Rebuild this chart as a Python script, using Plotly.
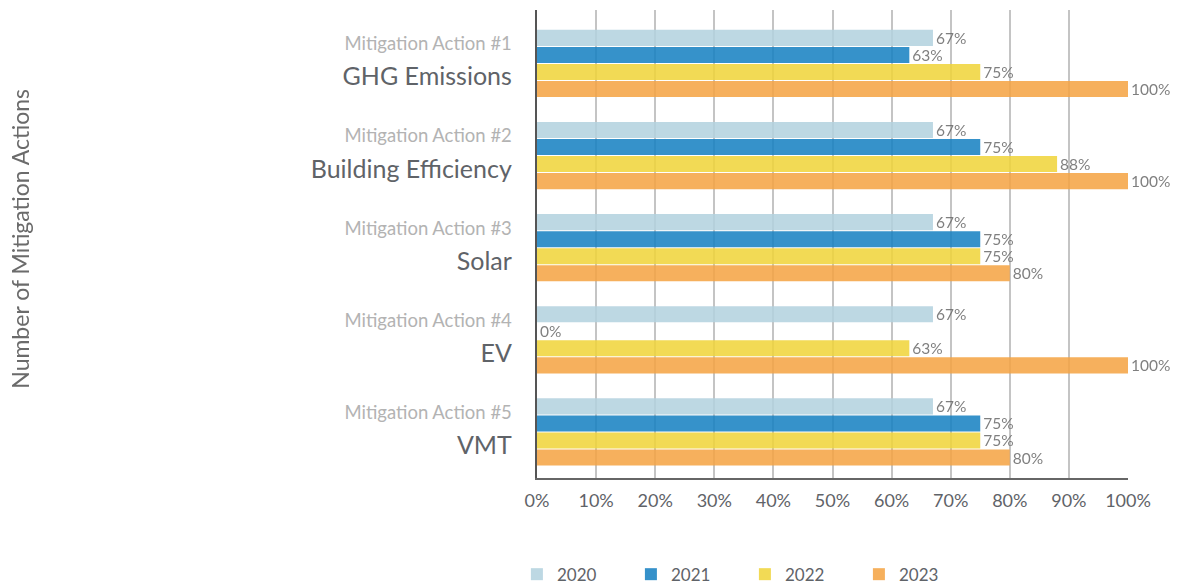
import plotly.graph_objects as go

actions = ["Mitigation Action #1", "Mitigation Action #2", "Mitigation Action #3",
           "Mitigation Action #4", "Mitigation Action #5"]
topics = ["GHG Emissions", "Building Efficiency", "Solar", "EV", "VMT"]
years = ["2020", "2021", "2022", "2023"]
values = {
    "2020": [67, 67, 67, 67, 67],
    "2021": [63, 75, 75, 0, 75],
    "2022": [75, 88, 75, 63, 75],
    "2023": [100, 100, 80, 100, 80],
}
x_ticks = [0, 10, 20, 30, 40, 50, 60, 70, 80, 90, 100]

colors = {"2020": "#b3d2df", "2021": "#1580c2", "2022": "#f0d43a", "2023": "#f5a443"}

ticktext = [f"<span style='font-size:18.5px;color:#b3b3b3'>{a}</span><br>"
            f"<span style='font-size:25px'>{t}</span>"
            for a, t in zip(actions, topics)]

fig = go.Figure()
for yr in years:
    fig.add_trace(go.Bar(
        y=topics, x=values[yr], name=yr, orientation="h",
        marker=dict(color=colors[yr], line=dict(width=0)),
        opacity=0.86,
        text=[f"{v}%" for v in values[yr]], textposition="outside",
        constraintext="none",
        textfont=dict(size=15.5, color="#6b6b6b", family="Lato"),
        cliponaxis=False,
    ))

fig.update_layout(
    width=1186, height=586,
    margin=dict(l=537, r=58, t=10, b=108, autoexpand=False),
    barmode="group", bargap=0.26, bargroupgap=0.06,
    plot_bgcolor="white", paper_bgcolor="white",
    font=dict(family="Lato", color="#5f6368"),
    legend=dict(orientation="h", x=-0.034, y=-0.168, xanchor="left", yanchor="top",
                traceorder="normal", font=dict(size=17, color="#5f6368"),
                entrywidth=69, entrywidthmode="pixels"),
    showlegend=True,
)
fig.update_xaxes(range=[0, 100], tickvals=x_ticks, ticktext=[f"{v}%" for v in x_ticks],
                 showgrid=True, gridcolor="#c4c4c4", gridwidth=1.5,
                 showline=True, linecolor="#666666", linewidth=1.5,
                 tickfont=dict(size=18, color="#5f6368"), ticks="", ticklabelstandoff=6,
                 zeroline=False)
fig.update_yaxes(categoryorder="array", categoryarray=topics,
                 range=[4.5, -0.58], tickvals=topics, ticktext=ticktext,
                 showline=True, linecolor="#555555", linewidth=1.5,
                 tickfont=dict(size=27, color="#5f6368"), ticks="", ticklabelstandoff=18,
                 ticklabelshift=5,
                 showgrid=False)

fig.add_annotation(text="Number of Mitigation Actions", textangle=-90,
                   xref="paper", yref="paper", x=-0.875, y=0.511,
                   showarrow=False, font=dict(size=23, color="#6b6b6b", family="Lato"),
                   xanchor="center", yanchor="middle")

fig.write_html("out.html", config={"displayModeBar": False},
               post_script="document.body.style.margin='0';document.body.style.padding='0';")
